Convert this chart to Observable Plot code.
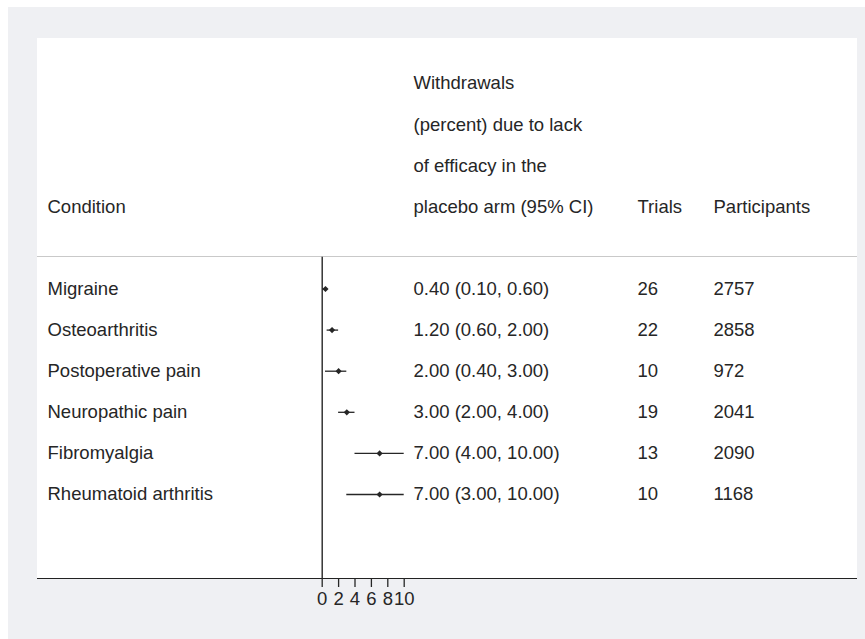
<!DOCTYPE html>
<html>
<head>
<meta charset="utf-8">
<script src="https://cdn.jsdelivr.net/npm/d3@7"></script>
<script src="https://cdn.jsdelivr.net/npm/@observablehq/plot@0.6"></script>
<style>
  html, body { margin: 0; padding: 0; background: #ffffff; overflow: hidden; }
  #bg { position: absolute; left: 8px; top: 7px; width: 857px; height: 640px; background: #eff0f3; }
  #panel { position: absolute; left: 29px; top: 31px; width: 820px; height: 540px; background: #ffffff; border-bottom: 1.5px solid #222; }
  #sep { position: absolute; left: 29px; top: 248.5px; width: 820px; height: 1px; background: #c9c9c9; }
  #chart { position: absolute; left: 0; top: 0; }
  #chart svg { overflow: visible; }
</style>
</head>
<body>
<div id="bg">
  <div id="panel"></div>
  <div id="sep"></div>
  <div id="chart"></div>
</div>
<script>
// ---- data ----
const conditions = ["Migraine", "Osteoarthritis", "Postoperative pain", "Neuropathic pain", "Fibromyalgia", "Rheumatoid arthritis"];
const estimates = [0.40, 1.20, 2.00, 3.00, 7.00, 7.00];
const lower = [0.10, 0.60, 0.40, 2.00, 4.00, 3.00];
const upper = [0.60, 2.00, 3.00, 4.00, 10.00, 10.00];
const trials = [26, 22, 10, 19, 13, 10];
const participants = [2757, 2858, 972, 2041, 2090, 1168];
const headerMain = ["Withdrawals", "(percent) due to lack", "of efficacy in the", "placebo arm (95% CI)"];
const headerCondition = "Condition";
const headerTrials = "Trials";
const headerParticipants = "Participants";
const xTicks = [0, 2, 4, 6, 8, 10];

// row layout (row index on a line grid)
const firstRow = 5;
const sepRow = 4.23;
const axisRow = 12.07;

const rows = conditions.map((c, i) => ({
  condition: c,
  est: estimates[i],
  lo: lower[i],
  hi: upper[i],
  label: `${estimates[i].toFixed(2)} (${lower[i].toFixed(2)}, ${upper[i].toFixed(2)})`,
  trials: String(trials[i]),
  participants: String(participants[i]),
  row: firstRow + i
}));
const headerRows = headerMain.map((t, i) => ({text: t, row: i}));
const lastHeader = headerMain.length - 1;

const W = 857, H = 632, ML = 313.7;
const colCondition = 39 - ML, colEst = 405 - ML, colTrials = 629 - ML, colPart = 705 - ML;
const ink = "#262626";
const font = "'Liberation Sans', Arial, Helvetica, sans-serif";

const txt = (data, opts) => Plot.text(data, {frameAnchor: "left", textAnchor: "start", fill: ink, fontSize: 18.5, ...opts});

const chart = Plot.plot({
  width: W,
  height: H,
  marginLeft: ML,
  marginRight: W - 395.7,
  marginTop: 0,
  marginBottom: 61,
  style: {fontFamily: font, fontSize: "18.5px", color: ink, background: "transparent", overflow: "visible"},
  x: {domain: [0, 10], range: [ML, 395.7]},
  y: {domain: [0, 12], range: [76, 76 + 12 * 41.1], axis: null},
  marks: [
    Plot.ruleX([0], {y1: sepRow, y2: axisRow, stroke: ink, strokeWidth: 1.4}),
    Plot.axisX({ticks: xTicks, tickSize: 9, tickPadding: 4, tickFormat: d => String(d), fontSize: 18.5, stroke: ink, fill: ink, label: null, strokeWidth: 1.3}),
    Plot.ruleY(rows, {y: "row", x1: "lo", x2: "hi", stroke: ink, strokeWidth: 1.3}),
    Plot.dot(rows, {x: "est", y: "row", r: 2.8, fill: ink, stroke: null, symbol: "diamond2"}),
    txt(headerRows, {y: "row", text: "text", dx: colEst}),
    txt([headerCondition], {y: () => lastHeader, text: d => d, dx: colCondition}),
    txt([headerTrials], {y: () => lastHeader, text: d => d, dx: colTrials}),
    txt([headerParticipants], {y: () => lastHeader, text: d => d, dx: colPart}),
    txt(rows, {y: "row", text: "condition", dx: colCondition}),
    txt(rows, {y: "row", text: "label", dx: colEst}),
    txt(rows, {y: "row", text: "trials", dx: colTrials}),
    txt(rows, {y: "row", text: "participants", dx: colPart})
  ]
});
document.getElementById("chart").appendChild(chart);
</script>
</body>
</html>
